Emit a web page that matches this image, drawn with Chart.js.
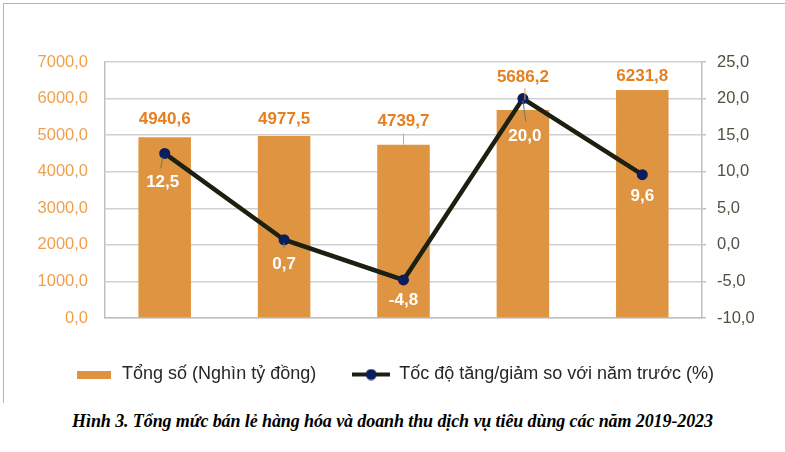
<!DOCTYPE html>
<html>
<head>
<meta charset="utf-8">
<script src="https://cdn.jsdelivr.net/npm/chart.js@4.4.1/dist/chart.umd.min.js"></script>
<style>
  body { margin: 0; background: #fff; width: 785px; height: 452px; overflow: hidden; position: relative; }
  #frame { position: absolute; left: 3px; top: 3px; width: 781px; height: 399px; border-left: 1px solid #b4b4b4; border-top: 1px solid #b4b4b4; }
  #chart { display: block; }
  #caption { position: absolute; left: 0; top: 411px; width: 785px; text-align: center; font: italic bold 18px "Liberation Serif"; color: #000; letter-spacing: -0.1px; }
</style>
</head>
<body>
<div id="frame"><canvas id="chart" width="781" height="399"></canvas></div>
<div id="caption">Hình 3. Tổng mức bán lẻ hàng hóa và doanh thu dịch vụ tiêu dùng các năm 2019-2023</div>
<script>
// data
const years = ['2019', '2020', '2021', '2022', '2023'];
const totalRetail = [4940.6, 4977.5, 4739.7, 5686.2, 6231.8];   // nghìn tỷ đồng
const growthRate = [12.5, 0.7, -4.8, 20.0, 9.6];                // %
const leftAxis = { min: 0, max: 7000, step: 1000 };
const rightAxis = { min: -10, max: 25, step: 5 };

const barColor = '#df9442';
const lineColor = '#1b2010';
const dotColor = '#0a1d5c';

Chart.defaults.font.family = "'Liberation Sans', Arial, sans-serif";

const fmt = v => v.toFixed(1).replace('.', ',');

// legend icons
const barIcon = document.createElement('canvas');
barIcon.width = 34; barIcon.height = 8;
let c = barIcon.getContext('2d');
c.fillStyle = barColor;
c.fillRect(0, 0, 34, 8);

const lineIcon = document.createElement('canvas');
lineIcon.width = 38; lineIcon.height = 12;
c = lineIcon.getContext('2d');
c.strokeStyle = lineColor; c.lineWidth = 4;
c.beginPath(); c.moveTo(0, 6); c.lineTo(38, 6); c.stroke();
c.fillStyle = dotColor;
c.beginPath(); c.arc(19, 6, 5.5, 0, Math.PI * 2); c.fill();

// value labels drawn next to bars and points
const valueLabels = {
  id: 'valueLabels',
  afterDatasetsDraw(chart, args, opts) {
    const ctx = chart.ctx;
    ctx.save();
    ctx.textAlign = 'center';
    ctx.textBaseline = 'middle';
    chart.data.datasets.forEach((ds, di) => {
      const o = opts.series[di];
      const meta = chart.getDatasetMeta(di);
      meta.data.forEach((el, i) => {
        const lead = o.leaders[i];
        if (lead) {
          ctx.strokeStyle = o.leaderColor;
          ctx.lineWidth = 1;
          ctx.beginPath();
          ctx.moveTo(el.x + lead[0], el.y + lead[1]);
          ctx.lineTo(el.x + lead[2], el.y + lead[3]);
          ctx.stroke();
        }
        ctx.font = o.font;
        ctx.fillStyle = o.color;
        ctx.fillText(fmt(ds.data[i]), el.x + o.dx[i], el.y + o.dy[i]);
      });
    });
    ctx.restore();
  }
};

new Chart(document.getElementById('chart'), {
  data: {
    labels: years,
    datasets: [
      {
        type: 'bar',
        label: 'Tổng số (Nghìn tỷ đồng)',
        data: totalRetail,
        backgroundColor: barColor,
        categoryPercentage: 1,
        barPercentage: 0.44,
        yAxisID: 'y',
        order: 2
      },
      {
        type: 'line',
        label: 'Tốc độ tăng/giảm so với năm trước (%)',
        data: growthRate,
        borderColor: lineColor,
        borderWidth: 4.5,
        pointRadius: 5.5,
        pointBackgroundColor: dotColor,
        pointBorderColor: dotColor,
        pointBorderWidth: 0,
        tension: 0,
        yAxisID: 'y1',
        order: 1
      }
    ]
  },
  options: {
    responsive: false,
    animation: false,
    layout: { padding: { top: 58, bottom: 9.5, left: 0, right: 0 } },
    plugins: {
      tooltip: { enabled: false },
      legend: {
        position: 'bottom',
        labels: {
          usePointStyle: true,
          pointStyleWidth: 38,
          padding: 36,
          color: '#262626',
          font: { size: 18 },
          generateLabels(chart) {
            return chart.data.datasets.map((ds, i) => ({
              text: ds.label,
              pointStyle: i === 0 ? barIcon : lineIcon,
              fillStyle: 'transparent',
              strokeStyle: 'transparent',
              lineWidth: 0,
              fontColor: '#262626',
              datasetIndex: i
            }));
          }
        }
      },
      valueLabels: {
        series: [
          {
            font: 'bold 17px "Liberation Sans"',
            color: '#e67f1e',
            leaderColor: '#f0a050',
            dx: [0, 0, 0, 0, 0],
            dy: [-18, -17, -23, -33, -14],
            leaders: [null, null, [0, -11, 0, 0], [2, -22, 2, -10], null]
          },
          {
            font: 'bold 17px "Liberation Sans"',
            color: '#ffffff',
            leaderColor: '#6f7d52',
            dx: [-2, 0, 0, 2, 0],
            dy: [29, 25, 20, 38, 22],
            leaders: [[-2, 4, -4, 15], [0, 3, 0, 8], null, [0, 2, 3, 23], null]
          }
        ]
      }
    },
    scales: {
      x: {
        grid: { display: true, drawOnChartArea: false, drawTicks: false },
        border: { color: '#bfbfbf', width: 1.5 },
        ticks: { color: '#262626', font: { size: 17 }, padding: 13 },
        afterFit(scale) { scale.height = 11.5; }
      },
      y: {
        position: 'left',
        min: leftAxis.min,
        max: leftAxis.max,
        ticks: {
          stepSize: leftAxis.step,
          color: '#f0a04b',
          font: { size: 16.5 },
          padding: 17,
          callback: v => fmt(v)
        },
        grid: { color: '#d0d0d0', lineWidth: 1.5, drawTicks: false },
        border: { color: '#bfbfbf', width: 1.5 },
        afterFit(scale) { scale.width = 101; }
      },
      y1: {
        position: 'right',
        min: rightAxis.min,
        max: rightAxis.max,
        ticks: {
          stepSize: rightAxis.step,
          color: '#4d5340',
          font: { size: 16.5 },
          padding: 11,
          callback: v => fmt(v)
        },
        grid: { drawOnChartArea: false, tickLength: 4, color: '#bfbfbf', lineWidth: 1.5 },
        border: { color: '#bfbfbf', width: 1.5 },
        afterFit(scale) { scale.width = 83; }
      }
    }
  },
  plugins: [valueLabels]
});
</script>
</body>
</html>
